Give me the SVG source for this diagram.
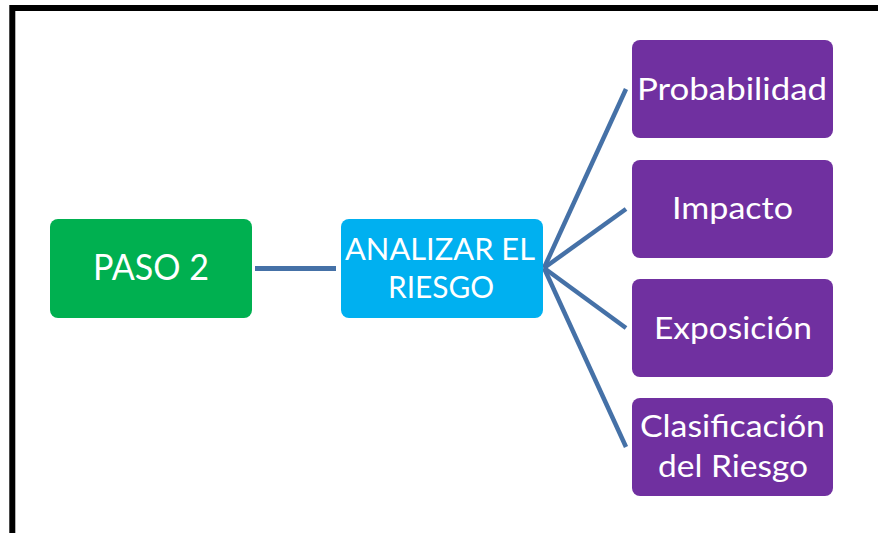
<svg xmlns="http://www.w3.org/2000/svg" width="878" height="533" viewBox="0 0 878 533">
<style>
.box{stroke:none}
.g{fill:#00B050}
.b{fill:#00B0F0}
.p{fill:#7030A0}
.t{fill:#ffffff;font-family:"Lato","Open Sans","Liberation Sans",sans-serif;font-size:31.5px}
.big{font-size:36px}
.conn{stroke:#4571A7;stroke-width:4.5;fill:none;stroke-linecap:butt}
</style>
<rect width="878" height="533" fill="#ffffff"/>
<path d="M12.3,545 V8 H900" fill="none" stroke="#000000" stroke-width="6"/>
<g id="connectors">
<line class="conn" x1="255" y1="268.5" x2="336" y2="268.5" style="stroke-width:5"/>
<line class="conn" x1="544" y1="268" x2="626" y2="89"/>
<line class="conn" x1="544" y1="268" x2="626" y2="209"/>
<line class="conn" x1="544" y1="268" x2="626" y2="328"/>
<line class="conn" x1="544" y1="268" x2="626" y2="447"/>
</g>
<g id="paso2">
<rect class="box g" x="50" y="219" width="202" height="99" rx="8"/>
<text class="t big" x="93" y="279.5" textLength="116" lengthAdjust="spacingAndGlyphs">PASO 2</text>
</g>
<g id="analizar">
<rect class="box b" x="341" y="219" width="202" height="99" rx="8"/>
<text class="t" x="345" y="259.5" textLength="190" lengthAdjust="spacingAndGlyphs">ANALIZAR EL</text>
<text class="t" x="388" y="298" textLength="106" lengthAdjust="spacingAndGlyphs">RIESGO</text>
</g>
<g id="probabilidad">
<rect class="box p" x="632" y="40" width="201" height="98" rx="8"/>
<text class="t" x="637" y="100" textLength="190" lengthAdjust="spacingAndGlyphs">Probabilidad</text>
</g>
<g id="impacto">
<rect class="box p" x="632" y="160" width="201" height="98" rx="8"/>
<text class="t" x="672" y="218.5" textLength="121" lengthAdjust="spacingAndGlyphs">Impacto</text>
</g>
<g id="exposicion">
<rect class="box p" x="632" y="279" width="201" height="98" rx="8"/>
<text class="t" x="654" y="339" textLength="158" lengthAdjust="spacingAndGlyphs">Exposición</text>
</g>
<g id="clasificacion">
<rect class="box p" x="632" y="398" width="201" height="98" rx="8"/>
<text class="t" x="640" y="437" textLength="185" lengthAdjust="spacingAndGlyphs">Clasificación</text>
<text class="t" x="658" y="477" textLength="150" lengthAdjust="spacingAndGlyphs">del Riesgo</text>
</g>
</svg>
